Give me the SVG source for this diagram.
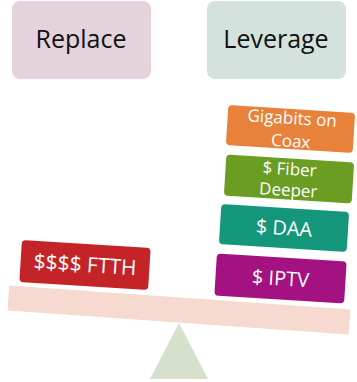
<svg xmlns="http://www.w3.org/2000/svg" width="357" height="382" viewBox="0 0 357 382">
  <style>
    .head { font-family: "Open Sans", "Liberation Sans", sans-serif; font-size: 25px; fill: #111; text-anchor: middle; }
    .lbl { font-family: "Open Sans", "Liberation Sans", sans-serif; fill: #fff; text-anchor: middle; }
    .s17 { font-size: 17px; }
    .s20 { font-size: 20px; }
  </style>
  <rect width="357" height="382" fill="#fff"/>

  <!-- column headings -->
  <g id="replace">
    <rect x="12" y="1" width="139" height="78" rx="8" fill="#e4d2dc"/>
    <text class="head" x="81" y="48">Replace</text>
  </g>
  <g id="leverage">
    <rect x="207" y="1" width="139" height="78" rx="8" fill="#d3e2dd"/>
    <text class="head" x="276" y="48">Leverage</text>
  </g>

  <!-- fulcrum and tilted plank -->
  <g id="fulcrum">
    <polygon points="179,323 150,379 208,379" fill="#d5e0cd"/>
  </g>
  <g id="plank" transform="translate(179,310) rotate(4)">
    <rect x="-171" y="-12.5" width="342" height="25" fill="#f6d9cf"/>
  </g>

  <!-- left pan -->
  <g id="ftth" transform="translate(85,265) rotate(3.6)">
    <rect x="-64.5" y="-21" width="129" height="42" rx="4" fill="#c42327"/>
    <text class="lbl" x="0" y="7" style="font-size:21px">$$$$ FTTH</text>
  </g>

  <!-- right pan stack -->
  <g id="iptv" transform="translate(280.5,278.5) rotate(3.6)">
    <rect x="-65" y="-21" width="130" height="42" rx="4" fill="#a41180"/>
    <text class="lbl s20" x="0" y="7">$ IPTV</text>
  </g>
  <g id="daa" transform="translate(284,228) rotate(3.6)">
    <rect x="-64" y="-20" width="128" height="40" rx="4" fill="#14967b"/>
    <text class="lbl s20" x="0" y="7">$ DAA</text>
  </g>
  <g id="fiber" transform="translate(289,179) rotate(3.6)">
    <rect x="-64" y="-20.5" width="128" height="41" rx="4" fill="#6a9d22"/>
    <text class="lbl s17" x="0" y="-4">$ Fiber</text>
    <text class="lbl s17" x="0" y="17">Deeper</text>
  </g>
  <g id="gigabits" transform="translate(290.5,129) rotate(3.6)">
    <rect x="-63.5" y="-20" width="127" height="40" rx="4" fill="#e8813a"/>
    <text class="lbl s17" x="1" y="-5">Gigabits on</text>
    <text class="lbl s17" x="1" y="18">Coax</text>
  </g>

  <g id="connectors"/>
</svg>
